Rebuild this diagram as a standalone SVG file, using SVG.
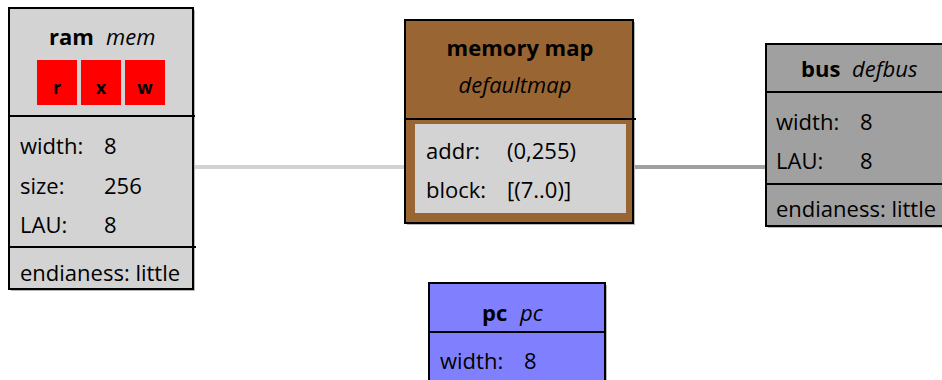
<svg xmlns="http://www.w3.org/2000/svg" width="942" height="380" viewBox="0 0 942 380">
  <style>
    text { font-family: "Open Sans", "Noto Sans", sans-serif; font-size: 22px; fill: #000; }
    .b { font-weight: bold; }
    .i { font-style: italic; }
    .flag { font-size: 18px; font-weight: bold; text-anchor: middle; }
    .box { stroke: #000; stroke-width: 2; }
    .shadow { fill: #b8b8b8; }
    .sep { stroke: #000; stroke-width: 2; }
    .ram { fill: #d3d3d3; }
    .map { fill: #996633; }
    .bus { fill: #a0a0a0; }
    .pc { fill: #8080ff; }
  </style>

  <!-- connectors -->
  <g id="connectors">
    <line x1="195" y1="167" x2="416" y2="167" stroke="#d3d3d3" stroke-width="4"/>
    <line x1="626" y1="167" x2="766" y2="167" stroke="#a0a0a0" stroke-width="4"/>
  </g>

  <!-- ram node -->
  <g id="ram">
    <rect class="shadow" x="11" y="10" width="184" height="281"/>
    <rect class="box ram" x="9" y="8" width="184" height="281"/>
    <text x="49" y="45"><tspan class="b">ram</tspan><tspan class="i" x="106">mem</tspan></text>
    <rect x="37" y="60" width="40" height="45" fill="#ff0000"/>
    <rect x="81" y="60" width="40" height="45" fill="#ff0000"/>
    <rect x="125" y="60" width="40" height="45" fill="#ff0000"/>
    <text class="flag" x="57" y="94">r</text>
    <text class="flag" x="101" y="94">x</text>
    <text class="flag" x="145" y="94">w</text>
    <line class="sep" x1="9" y1="116" x2="195" y2="116"/>
    <text x="20" y="154">width:</text><text x="104" y="154">8</text>
    <text x="20" y="194">size:</text><text x="104" y="194">256</text>
    <text x="20" y="233">LAU:</text><text x="104" y="233">8</text>
    <line class="sep" x1="9" y1="247" x2="196" y2="247"/>
    <text x="20" y="281">endianess: little</text>
  </g>

  <!-- memory map node -->
  <g id="memory-map">
    <rect class="shadow" x="407" y="22" width="228" height="203"/>
    <rect class="box map" x="405" y="20" width="228" height="203"/>
    <text class="b" x="520" y="56" text-anchor="middle">memory map</text>
    <text class="i" x="515" y="93" text-anchor="middle">defaultmap</text>
    <line class="sep" x1="405" y1="119" x2="636" y2="119"/>
    <rect x="415" y="124" width="211" height="89" fill="#d3d3d3"/>
    <text x="426" y="159">addr:</text><text x="507" y="159">(0,255)</text>
    <text x="426" y="198">block:</text><text x="507" y="198">[(7..0)]</text>
  </g>

  <!-- bus node -->
  <g id="bus">
    <rect class="shadow" x="768" y="46" width="180" height="182"/>
    <rect class="box bus" x="766" y="44" width="180" height="182"/>
    <text x="801" y="77"><tspan class="b">bus</tspan><tspan class="i" x="852">defbus</tspan></text>
    <line class="sep" x1="766" y1="92" x2="942" y2="92"/>
    <text x="776" y="130">width:</text><text x="860" y="130">8</text>
    <text x="776" y="169">LAU:</text><text x="860" y="169">8</text>
    <line class="sep" x1="766" y1="184" x2="942" y2="184"/>
    <text x="776" y="217">endianess: little</text>
  </g>

  <!-- pc node -->
  <g id="pc">
    <rect class="shadow" x="431" y="285" width="176" height="110"/>
    <rect class="box pc" x="429" y="283" width="176" height="110"/>
    <text x="482" y="321"><tspan class="b">pc</tspan><tspan class="i" x="520">pc</tspan></text>
    <line class="sep" x1="429" y1="332" x2="605" y2="332"/>
    <text x="440" y="369">width:</text><text x="524" y="369">8</text>
  </g>
</svg>
